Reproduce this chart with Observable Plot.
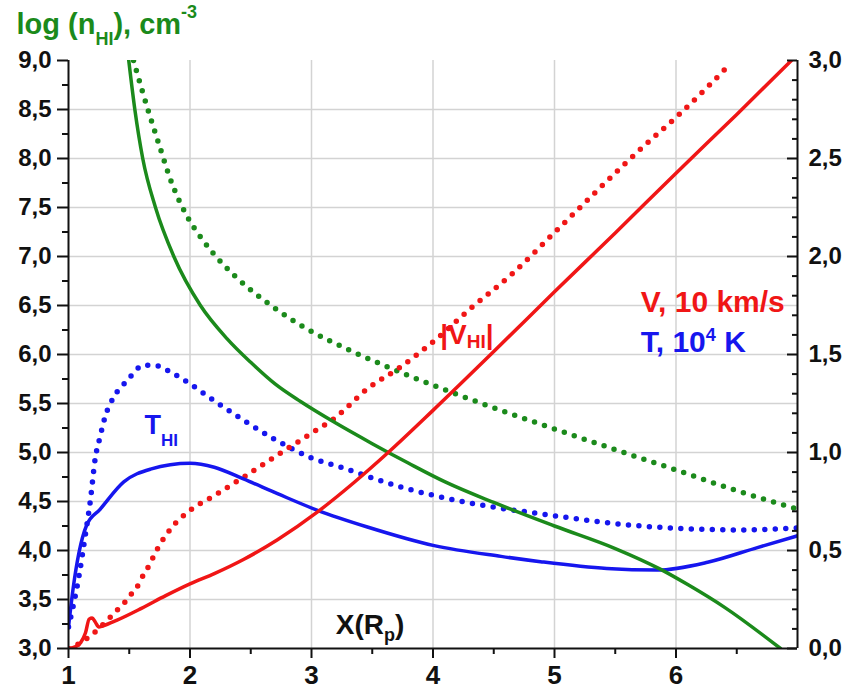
<!DOCTYPE html>
<html><head><meta charset="utf-8">
<script src="https://cdn.jsdelivr.net/npm/d3@7"></script>
<script src="https://cdn.jsdelivr.net/npm/@observablehq/plot@0.6"></script>
<style>
body{margin:0;background:#fff}
#chart{width:849px;height:692px}
text{white-space:pre}
</style>
</head><body><div id="chart"></div>
<script>
const GREEN = "#1b8a1b", RED = "#f01616", BLUE = "#1616ee";

// ---- data (x in R_p) ----
// log n_HI, cm^-3 (left axis)
const nSolidX   = [1.496,1.546,1.611,1.716,1.867,2.086,2.306,2.5,2.7,2.91,3.2,3.5,3.8,4.1,4.5,5.0,5.5,5.87,6.1,6.4,6.86];
const nSolidLog = [9.0,8.5,8.0,7.5,7.0,6.5,6.16,5.92,5.70,5.52,5.30,5.09,4.89,4.70,4.49,4.25,4.02,3.81,3.65,3.42,3.0];
const nDotX     = [1.535,1.56,1.661,1.743,1.853,1.963,2.11,2.28,2.47,2.69,2.95,3.32,3.73,4.14,4.56,5.0,5.57,5.98,6.5,6.98];
const nDotLog   = [9.0,8.89,8.47,8.15,7.74,7.44,7.16,6.91,6.69,6.48,6.27,6.04,5.82,5.62,5.43,5.24,5.00,4.83,4.61,4.43];
// T, 10^4 K (right axis)
const tSolidX = [1.0,1.04,1.085,1.15,1.26,1.455,1.675,2.0,2.2,2.44,2.72,3.05,3.46,4.01,4.56,4.885,5.43,5.845,6.26,6.67,7.0];
const tSolid  = [0.11,0.315,0.485,0.63,0.71,0.85,0.915,0.945,0.925,0.865,0.79,0.705,0.62,0.525,0.47,0.443,0.408,0.40,0.44,0.515,0.575];
const tDotX   = [1.0,1.085,1.14,1.18,1.22,1.26,1.30,1.37,1.48,1.62,1.70,1.87,2.0,2.22,2.44,2.69,2.99,3.24,3.73,4.28,4.91,5.71,6.53,7.0];
const tDot    = [0.11,0.365,0.585,0.755,0.97,1.08,1.18,1.28,1.365,1.445,1.445,1.40,1.35,1.255,1.165,1.07,0.975,0.925,0.825,0.745,0.685,0.625,0.605,0.615];
// V, 10 km/s (right axis)
const vSolidX = [1.0,1.06,1.1,1.14,1.17,1.195,1.22,1.25,1.28,1.4,1.6,1.8,2.0,2.2,2.44,2.72,3.05,3.35,3.64,4.0,4.5,5.0,5.5,6.0,6.5,6.95];
const vSolid  = [0,0.01,0.03,0.08,0.15,0.155,0.135,0.11,0.115,0.145,0.205,0.27,0.33,0.382,0.454,0.555,0.697,0.847,1.005,1.215,1.515,1.82,2.12,2.425,2.725,3.0];
const vDotX   = [1.0,1.1,1.21,1.345,1.40,1.47,1.52,1.58,1.62,1.67,1.70,1.84,1.98,2.20,2.43,2.74,3.03,3.18,3.46,3.73,4.03,4.31,4.64,5.02,5.73,6.0,6.26,6.45];
const vDot    = [0,0.03,0.08,0.16,0.195,0.24,0.28,0.33,0.38,0.43,0.47,0.61,0.695,0.78,0.87,0.995,1.11,1.17,1.325,1.435,1.58,1.735,1.905,2.135,2.56,2.71,2.865,2.985];

// ticks
const xMajor = [1,2,3,4,5,6];
const xMinor = [1.5,2.5,3.5,4.5,5.5,6.5];
const xGrid = [2,3,4,5,6];
const yLeftMajor = [3,3.5,4,4.5,5,5.5,6,6.5,7,7.5,8,8.5,9];
const yLeftMinor = [3.25,3.75,4.25,4.75,5.25,5.75,6.25,6.75,7.25,7.75,8.25,8.75];
const yGrid = [3.5,4,4.5,5,5.5,6,6.5,7,7.5,8,8.5];
const rightMajor = [0,0.5,1,1.5,2,2.5,3];
const rightMinor = d3.range(0, 30).map(i => i/10).filter(v => Math.round(v*10) % 5 !== 0);

// right axis value -> left axis coordinate
const toLeft = v => 3 + 2*v;

const series = [
  {x: tDotX, y: tDot, right: true, color: BLUE, dotted: true},
  {x: nDotX, y: nDotLog, right: false, color: GREEN, dotted: true},
  {x: vDotX, y: vDot, right: true, color: RED, dotted: true},
  {x: tSolidX, y: tSolid, right: true, color: BLUE, dotted: false},
  {x: nSolidX, y: nSolidLog, right: false, color: GREEN, dotted: false},
  {x: vSolidX, y: vSolid, right: true, color: RED, dotted: false}
];

const annotations = [
  {text: "|VHI|", x: 4.06, y: 6.20, color: RED, size: 28},
  {text: "THI", x: 1.625, y: 5.28, color: BLUE, size: 27},
  {text: "V, 10 km/s", x: 5.71, y: 6.53, color: RED, size: 30},
  {text: "T, 104 K", x: 5.71, y: 6.12, color: BLUE, size: 30},
  {text: "X(Rp)", x: 3.20, y: 3.24, color: "#111", size: 28}
];
const rich = {
  "log (nHI), cm-3": [["log (n",0],["HI",11,18],["), cm",0],["-3",-16,18]],
  "|VHI|": [["|V",0],["HI",4,19],["|",0]],
  "THI": [["T",0],["HI",12,17]],
  "T, 104 K": [["T, 10",0],["4",-11,18],[" K",0]],
  "X(Rp)": [["X(R",0],["p",7,18],[")",0]]
};

const fmt = d => d.toFixed(1).replace(".", ",");
const FONT = "'Liberation Sans', Arial, Helvetica, sans-serif";
const GRID = {stroke: "#d3d3d3", strokeOpacity: 1, strokeWidth: 1.5};
const FRAMEW = 849 - 68 - 52;

const lineMarks = series.map(s => {
  const rows = s.x.map((x, i) => ({x, y: s.right ? toLeft(s.y[i]) : s.y[i]}));
  return Plot.line(rows, s.dotted
    ? {x: "x", y: "y", stroke: s.color, strokeWidth: 5.5, strokeDasharray: "0 10.5", strokeLinecap: "round", curve: "monotone-x", clip: true}
    : {x: "x", y: "y", stroke: s.color, strokeWidth: 3.5, curve: "monotone-x", clip: true});
});

const chart = Plot.plot({
  width: 849, height: 692,
  marginLeft: 68, marginRight: 52, marginTop: 60, marginBottom: 44,
  x: {domain: [1, 7], axis: null},
  y: {domain: [3, 9], axis: null},
  style: {fontFamily: FONT, color: "#111", background: "#fff", overflow: "visible"},
  marks: [
    Plot.gridX(xGrid, GRID),
    Plot.gridY(yGrid, GRID),
    ...lineMarks,
    Plot.axisX(xMajor, {tickSize: 10, tickPadding: 7, tickFormat: d => String(d), fontSize: 26, fontWeight: "bold", strokeWidth: 2, label: null}),
    Plot.axisX(xMinor, {tickSize: 6, tickFormat: () => "", strokeWidth: 2, label: null}),
    Plot.axisY(yLeftMajor, {anchor: "left", tickSize: 11, tickPadding: 6, tickFormat: fmt, fontSize: 24, fontWeight: "bold", strokeWidth: 2, label: null}),
    Plot.axisY(yLeftMinor, {anchor: "left", tickSize: 6, tickFormat: () => "", strokeWidth: 2, label: null}),
    Plot.axisY(rightMajor.map(toLeft), {anchor: "right", tickSize: 0, tickPadding: 11, tickFormat: d => fmt((d - 3)/2), fontSize: 24, fontWeight: "bold", label: null}),
    Plot.tickY(rightMajor.map(toLeft), {y: d => d, insetLeft: FRAMEW - 10, stroke: "#111", strokeWidth: 2}),
    Plot.tickY(rightMinor.map(toLeft), {y: d => d, insetLeft: FRAMEW - 5, stroke: "#111", strokeWidth: 2}),
    Plot.ruleX([1], {stroke: "#111", strokeWidth: 2}),
    Plot.ruleX([7], {stroke: "#111", strokeWidth: 2}),
    Plot.ruleY([3], {stroke: "#111", strokeWidth: 2}),
    Plot.text(annotations, {x: "x", y: "y", text: "text", fill: d => d.color, fontSize: d => d.size, fontWeight: "bold", textAnchor: "start", lineAnchor: "middle"}),
    Plot.text(["log (nHI), cm-3"], {text: d => d, frameAnchor: "top-left", dx: -52, dy: -36, fill: GREEN, fontSize: 29, fontWeight: "bold", textAnchor: "start", lineAnchor: "middle"})
  ]
});

document.getElementById("chart").appendChild(chart);

// rich text: subscripts / superscripts
const NS = "http://www.w3.org/2000/svg";
chart.querySelectorAll("text").forEach(t => {
  const parts = rich[t.textContent];
  if (!parts) return;
  t.textContent = "";
  let cur = 0;
  for (const [s, shift, size] of parts) {
    const ts = document.createElementNS(NS, "tspan");
    ts.textContent = s;
    const dy = shift - cur;
    if (dy) ts.setAttribute("dy", dy);
    if (size) ts.setAttribute("font-size", size);
    cur = shift;
    t.appendChild(ts);
  }
});
</script>
</body></html>
